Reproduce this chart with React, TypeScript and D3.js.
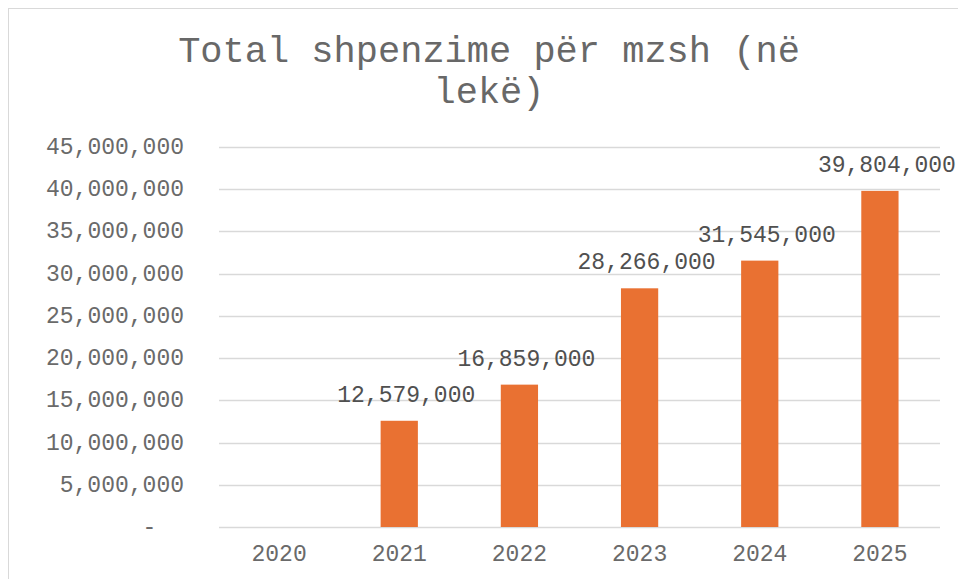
import React from "react";
import * as d3 from "d3";

const categories = ["2020", "2021", "2022", "2023", "2024", "2025"];
const values = [0, 12579000, 16859000, 28266000, 31545000, 39804000];
const yTicks = [0, 5000000, 10000000, 15000000, 20000000, 25000000, 30000000, 35000000, 40000000, 45000000];
const titleLines = ["Total shpenzime për mzsh (në", "lekë)"];

const W = 958;
const H = 579;
const FONT = "'Courier New', 'Liberation Mono', monospace";

export default function App() {
  const x = d3
    .scaleBand<string>()
    .domain(categories)
    .range([219, 940])
    .paddingInner(0.69)
    .paddingOuter(0.345);
  const y = d3.scaleLinear().domain([0, 45000000]).range([527, 147]);
  const fmt = d3.format(",");

  return (
    <svg
      width={W}
      height={H}
      style={{ position: "absolute", left: 0, top: 0, background: "#fff" }}
    >
      <rect x={8.5} y={8.5} width={W + 10} height={H + 10} fill="#fff" stroke="#d9d9d9" strokeWidth={1} />
      {titleLines.map((t, i) => (
        <text
          key={i}
          x={489}
          y={62 + i * 41}
          textAnchor="middle"
          fontFamily={FONT}
          fontSize={37}
          fill="#686868"
        >
          {t}
        </text>
      ))}
      {yTicks.map((t) => (
        <g key={t}>
          <line x1={219} x2={940} y1={Math.round(y(t)) + 0.5} y2={Math.round(y(t)) + 0.5} stroke="#d9d9d9" strokeWidth={1.5} />
          <text
            x={184}
            y={y(t) + 7}
            textAnchor="end"
            fontFamily={FONT}
            fontSize={23}
            fill="#6a6a6a"
            style={{ whiteSpace: "pre" }}
          >
            {t === 0 ? "-  " : fmt(t)}
          </text>
        </g>
      ))}
      {categories.map((c, i) => (
        <g key={c}>
          {values[i] > 0 && (
            <rect
              x={x(c)!}
              y={y(values[i])}
              width={x.bandwidth()}
              height={y(0) - y(values[i])}
              fill="#E97132"
            />
          )}
          <text
            x={x(c)! + x.bandwidth() / 2}
            y={561}
            textAnchor="middle"
            fontFamily={FONT}
            fontSize={23}
            fill="#6a6a6a"
          >
            {c}
          </text>
          {values[i] > 0 && (
            <text
              x={x(c)! + x.bandwidth() / 2 + 7}
              y={y(values[i]) - 19}
              textAnchor="middle"
              fontFamily={FONT}
              fontSize={23}
              fill="#505050"
            >
              {fmt(values[i])}
            </text>
          )}
        </g>
      ))}
    </svg>
  );
}
